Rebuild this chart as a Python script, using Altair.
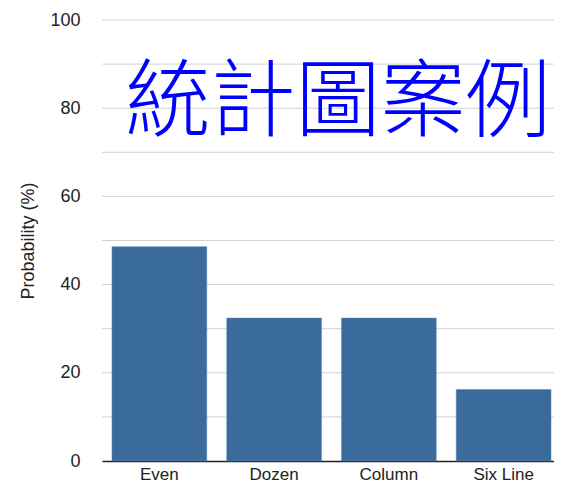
import altair as alt
import pandas as pd

categories = ["Even", "Dozen", "Column", "Six Line"]
probabilities = [48.6, 32.4, 32.4, 16.2]
y_ticks = [0, 20, 40, 60, 80, 100]
grid_values = [10, 20, 30, 40, 50, 60, 70, 80, 90, 100]
overlay_text = "統計圖案例"

df = pd.DataFrame({"cat": categories, "p": probabilities})
grid_df = pd.DataFrame({"g": grid_values})

font = "Liberation Sans"
y_title = "Probability (%)"

y_scale = alt.Scale(domain=[0, 100], nice=False)
y_axis = alt.Axis(values=y_ticks, grid=False, ticks=False, domain=False,
                  labelFontSize=18, labelColor="#222", labelFont=font,
                  labelPadding=22, titleFontSize=18, titleFont=font,
                  titleFontWeight="normal", titleColor="#222", titlePadding=12)

x_enc = alt.X("cat:N", sort=categories, title=None,
              scale=alt.Scale(paddingInner=0.174, paddingOuter=0.087, range=[0, 459]),
              axis=alt.Axis(labelAngle=0, labelFontSize=17, labelColor="#222",
                            labelFont=font, ticks=False, labelPadding=5,
                            domainColor="#222", domainWidth=1.5, grid=False))

grid = alt.Chart(grid_df).mark_rule(color="#d2d2d2", strokeWidth=1).encode(
    y=alt.Y("g:Q", scale=y_scale, title=y_title, axis=y_axis)
)

bars = alt.Chart(df).mark_bar(color="#3b6b9b", stroke="#5a86b3", strokeWidth=0.5).encode(
    x=x_enc,
    y=alt.Y("p:Q", scale=y_scale, title=y_title, axis=y_axis),
)

txt = alt.Chart(pd.DataFrame({"t": [overlay_text]})).mark_text(
    font="Noto Sans CJK TC", fontSize=85, color="#0000ff", fontWeight=300,
    align="center", baseline="middle"
).encode(text="t:N", x=alt.value(236), y=alt.value(84))

chart = alt.layer(grid, bars, txt).properties(
    width=452, height=441,
    autosize=alt.AutoSizeParams(type="none"),
    padding={"left": 94, "top": 12, "right": 0, "bottom": 22},
).configure_view(stroke=None)

chart.save("out.html", embed_options={"renderer": "svg", "actions": False})
